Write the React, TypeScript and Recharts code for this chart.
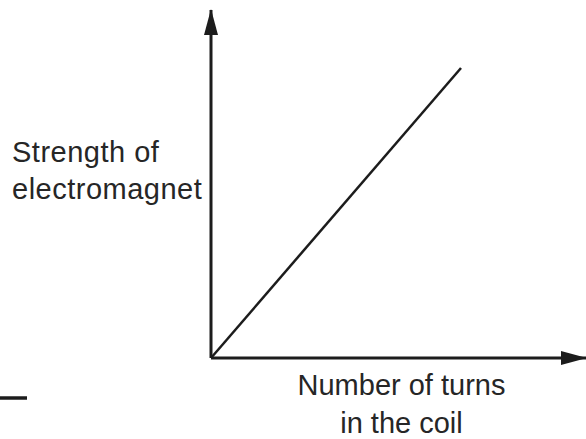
import { LineChart, Line, XAxis, YAxis } from 'recharts'

// turns in the coil vs. strength of the electromagnet (arbitrary units)
const turns = [0, 10]
const strength = [0, 10]
const turnsDomain = [0, 15]
const strengthDomain = [0, 12]

const yLabelLines = ['Strength of', 'electromagnet']
const xLabelLines = ['Number of turns', 'in the coil']

const data = turns.map((t, i) => ({ turns: t, strength: strength[i] }))

const INK = '#1c1c1c'
const TEXT = '#262626'
const FONT = '"Liberation Sans", Arial, Helvetica, sans-serif'

function YLabel({ viewBox }: any) {
  const x = viewBox.x + viewBox.width - 199
  return (
    <text x={x} y={162} fill={TEXT} fontSize={29} fontFamily={FONT} letterSpacing={0.5}>
      {yLabelLines.map((s, i) => (
        <tspan key={s} x={x} y={162 + i * 37}>{s}</tspan>
      ))}
    </text>
  )
}

function XLabel({ viewBox }: any) {
  const cx = viewBox.x + viewBox.width / 2 + 3
  return (
    <text x={cx} y={395} fill={TEXT} fontSize={29} fontFamily={FONT} textAnchor="middle">
      {xLabelLines.map((s, i) => (
        <tspan key={s} x={cx} y={395 + i * 38}>{s}</tspan>
      ))}
    </text>
  )
}

export default function App() {
  return (
    <div style={{ position: 'absolute', left: 0, top: 0, background: '#fff' }}>
      <LineChart
        width={586}
        height={439}
        data={data}
        margin={{ top: 10, right: 0, left: 210, bottom: 80 }}
      >
        <defs>
          <marker
            id="arrowHead"
            viewBox="0 0 26 14"
            markerUnits="userSpaceOnUse"
            markerWidth={26}
            markerHeight={14}
            refX={25}
            refY={7}
            orient="auto-start-reverse"
          >
            <path d="M0,0 L26,7 L0,14 z" fill={INK} />
          </marker>
        </defs>
        <XAxis
          dataKey="turns"
          type="number"
          domain={turnsDomain}
          height={1}
          tick={false}
          tickLine={false}
          axisLine={{ stroke: INK, strokeWidth: 3, markerEnd: 'url(#arrowHead)' }}
          label={<XLabel />}
        />
        <YAxis
          type="number"
          domain={strengthDomain}
          width={1}
          tick={false}
          tickLine={false}
          axisLine={{ stroke: INK, strokeWidth: 3, markerStart: 'url(#arrowHead)' }}
          label={<YLabel />}
        />
        <Line
          dataKey="strength"
          stroke={INK}
          strokeWidth={2.5}
          dot={false}
          isAnimationActive={false}
        />
        {/* short rule at the lower left edge */}
        <line x1={0} y1={398} x2={27} y2={398} stroke={INK} strokeWidth={3.5} />
      </LineChart>
    </div>
  )
}
